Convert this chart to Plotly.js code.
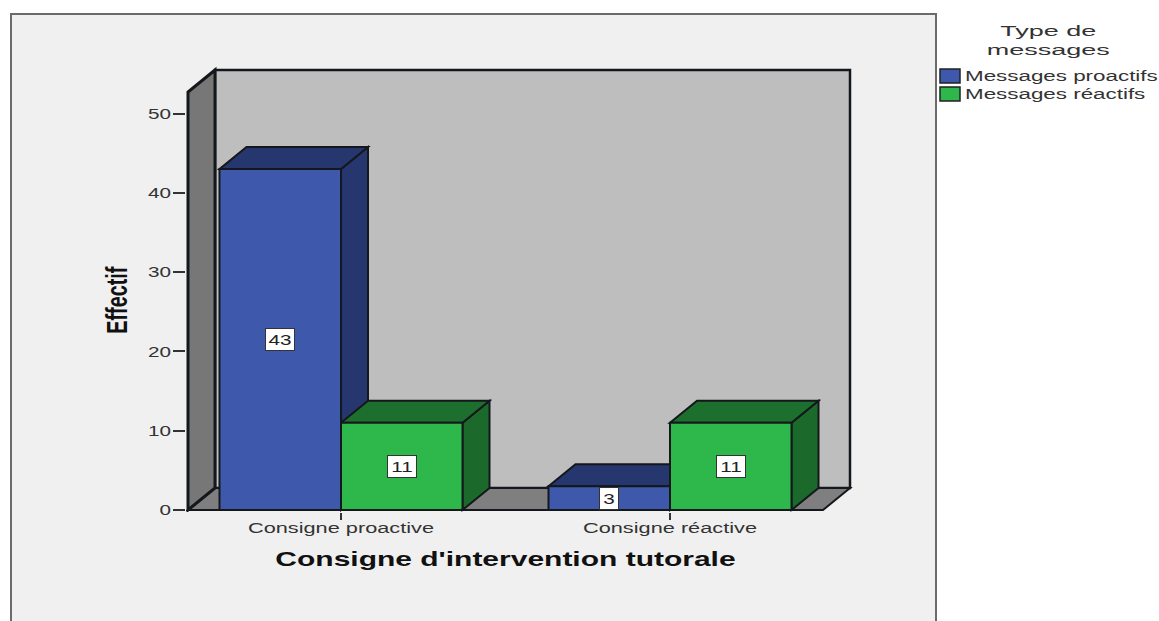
<!DOCTYPE html>
<html><head><meta charset="utf-8">
<script src="https://cdn.plot.ly/plotly-3.0.1.min.js"></script>
<style>html,body{margin:0;padding:0;background:#fff;overflow:hidden}
.legend .legendpoints{display:none}
.legend .scrollbox{clip-path:none !important}</style></head>
<body><div id="chart" style="width:1159px;height:621px"></div>
<script>
const categories = ["Consigne proactive", "Consigne réactive"];
const seriesNames = ["Messages proactifs", "Messages réactifs"];
const proactifs = [43, 3];
const reactifs = [11, 11];
const yTicks = [0, 10, 20, 30, 40, 50];
const xTitle = "Consigne d'intervention tutorale";
const yTitle = "Effectif";
const legendTitle = "Type de<br>messages";

const faceColors = ["#3e58ac", "#2eb84b"];
const topColors = ["#26366f", "#1d6f2e"];
const sideColors = ["#26366f", "#1b6a2c"];
const edge = "#14181c";
const FONT = "Liberation Sans";

// Scale of the plot, in pixels per axis unit
const pxX = 329, pxY = 7.93;
const plotL = 186, plotR = 854, plotT = 66, plotB = 512;
const x0Px = 341, y0Px = 510;
const xRange = [(plotL - x0Px) / pxX, (plotR - x0Px) / pxX];
const yRange = [(y0Px - plotB) / pxY, (y0Px - plotT) / pxY];
const wallL = (188 - x0Px) / pxX, wallR = (850 - x0Px) / pxX, wallTop = (510 - 70) / pxY;
const dx = 27 / pxX, dy = 22 / pxY;
const barW = 121.5 / pxX;

const poly = pts => "M" + pts.map(p => p[0] + "," + p[1]).join("L") + "Z";
const face = (pts, fill, w) => ({type: "path", xref: "x", yref: "y", layer: "below", path: poly(pts),
  fillcolor: fill, line: {color: edge, width: w === undefined ? 2 : w}});

const shapes = [];
const px = v => (v - plotL) / (plotR - plotL), py = v => (plotB - v) / (plotB - plotT);
// Outer panel
shapes.push({type: "rect", xref: "paper", yref: "paper", layer: "below",
  x0: px(11), x1: px(936), y0: py(640), y1: py(14), fillcolor: "#f0f0f0", line: {color: "#6b6b6b", width: 2}});
// Walls and floor
shapes.push(face([[wallL + dx, dy], [wallR, dy], [wallR, wallTop], [wallL + dx, wallTop]], "#bebebe", 2.5));
shapes.push(face([[wallL, 0], [wallL + dx, dy], [wallR, dy], [wallR - dx, 0]], "#7f7f7f", 2));
shapes.push(face([[wallL, 0], [wallL + dx, dy], [wallL + dx, wallTop], [wallL, wallTop - dy]], "#777777", 3));
// Depth faces of every bar, computed from the values
[proactifs, reactifs].forEach((vals, s) => {
  vals.forEach((v, c) => {
    const a = c + (s - 1) * barW, b = a + barW;
    shapes.push(face([[b, 0], [b + dx, dy], [b + dx, v + dy], [b, v]], sideColors[s]));
    shapes.push(face([[a, v], [a + dx, v + dy], [b + dx, v + dy], [b, v]], topColors[s]));
  });
});
// Legend swatches
const legendRow0 = 76, legendPitch = 18;
seriesNames.forEach((n, i) => {
  const yc = legendRow0 + i * legendPitch;
  shapes.push({type: "rect", xref: "paper", yref: "paper", layer: "below",
    x0: px(940), x1: px(960), y0: py(yc + 7), y1: py(yc - 7), fillcolor: faceColors[i], line: {color: "#222", width: 1.5}});
});

const traces = [proactifs, reactifs].map((vals, s) => ({
  type: "bar", name: seriesNames[s], x: [0, 1], y: vals,
  marker: {color: faceColors[s], line: {color: edge, width: 2}}, hoverinfo: "x+y+name"
}));

const annotations = [];
[proactifs, reactifs].forEach((vals, s) => {
  vals.forEach((v, c) => {
    annotations.push({x: c + (s - 0.5) * barW, y: v / 2, xref: "x", yref: "y", text: String(v), showarrow: false,
      font: {family: FONT, size: 15, color: "#222"}, bgcolor: "#fff", bordercolor: "#333", borderwidth: 1,
      width: String(v).length > 1 ? 28 : 18, height: 21, borderpad: 0, name: "value"});
  });
});
const place = {xanchor: "center", yanchor: "middle", xref: "paper", yref: "paper", showarrow: false};
annotations.push({...place, x: px(505), y: py(559), text: xTitle,
  font: {family: FONT, size: 20, color: "#111", weight: 700}, name: "xtitle"});
annotations.push({...place, x: px(116), y: py(300), text: yTitle, textangle: -90,
  font: {family: FONT, size: 30, color: "#111", weight: 700}, name: "ytitle"});
annotations.push({...place, x: px(1048), y: py(40), text: legendTitle,
  font: {family: FONT, size: 15, color: "#333"}, name: "legendtitle"});

const layout = {
  width: 1159, height: 621, autosize: false, showlegend: true,
  margin: {l: plotL, r: 1159 - plotR, t: plotT, b: 621 - plotB, pad: 0},
  paper_bgcolor: "#fff", plot_bgcolor: "rgba(0,0,0,0)",
  barmode: "group", bargap: 1 - 2 * barW, bargroupgap: 0,
  shapes, annotations,
  xaxis: {range: xRange, tickmode: "array", tickvals: [0, 1], ticktext: categories, ticks: "outside", ticklen: 7,
    tickwidth: 2, tickcolor: "#333", showgrid: false, zeroline: false, showline: false, ticklabelstandoff: -5,
    tickfont: {family: FONT, size: 15, color: "#333"}},
  yaxis: {range: yRange, tickmode: "array", tickvals: yTicks, ticks: "outside", ticklen: 12, tickwidth: 2,
    tickcolor: "#333", showgrid: false, zeroline: false, showline: false, ticklabelstandoff: -1,
    tickfont: {family: FONT, size: 15, color: "#333"}},
  legend: {x: 925 / 1159, y: 1 - 64 / 621, xref: "container", yref: "container", xanchor: "left", yanchor: "top",
    bgcolor: "rgba(0,0,0,0)", itemwidth: 30, traceorder: "normal", itemclick: false, itemdoubleclick: false,
    font: {family: FONT, size: 14, color: "#333"}}
};

// The reference is stretched sideways: widen each real text about its anchor.
function widen(el, k) {
  const x = parseFloat(el.getAttribute("x")) || 0;
  const t = el.getAttribute("transform") || "";
  el.setAttribute("transform", `${t} translate(${x},0) scale(${k},1) translate(${-x},0)`);
}
Plotly.newPlot("chart", traces, layout, {displayModeBar: false}).then(gd => {
  gd.querySelectorAll(".xtick text").forEach(e => widen(e, 1.45));
  gd.querySelectorAll(".ytick text").forEach(e => widen(e, 1.38));
  gd.querySelectorAll(".legendtext").forEach(e => widen(e, 1.6));
  gd.querySelectorAll(".legend .traces").forEach((g, i) => {
    g.setAttribute("transform", `translate(0,${12 + i * legendPitch})`);
  });
  gd.querySelectorAll(".annotation-text").forEach(e => {
    const s = e.textContent;
    if (s === xTitle) widen(e, 1.5);
    else if (s === yTitle) widen(e, 0.66);
    else if (s.startsWith("Type")) widen(e, 1.8);
    else widen(e, 1.38);
  });
});
</script></body></html>
